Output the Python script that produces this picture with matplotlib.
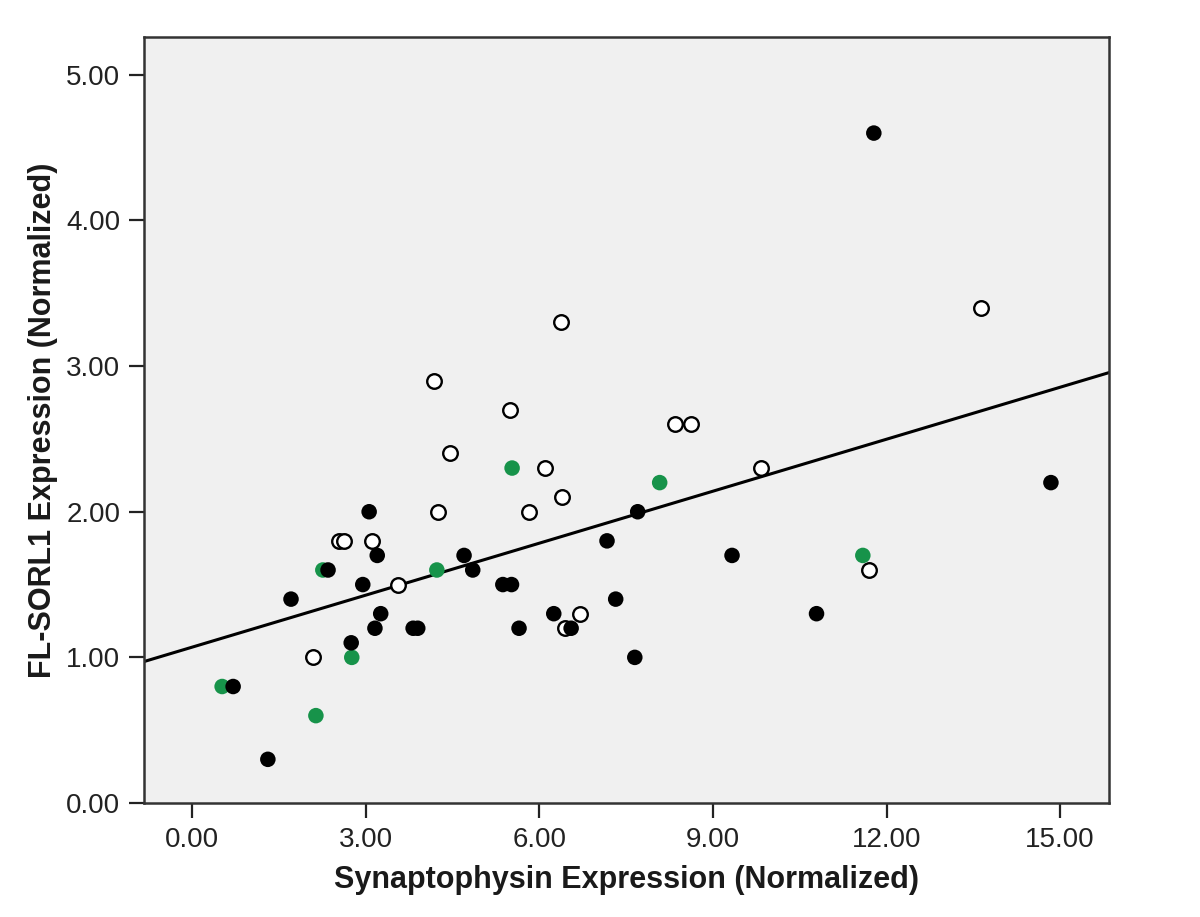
import numpy as np
import matplotlib
matplotlib.use("Agg")
import matplotlib.pyplot as plt

plt.rcParams["font.family"] = ["Liberation Sans", "DejaVu Sans"]

# filled black points (x, y)
filled_x = [0.71, 1.31, 1.71, 2.35, 2.75, 2.95, 3.06, 3.16, 3.20, 3.26, 3.82, 3.90,
            4.70, 4.85, 5.37, 5.52, 5.65, 6.25, 6.55, 7.17, 7.32, 7.65, 7.70, 9.33,
            10.79, 11.78, 14.84]
filled_y = [0.80, 0.30, 1.40, 1.60, 1.10, 1.50, 2.00, 1.20, 1.70, 1.30, 1.20, 1.20,
            1.70, 1.60, 1.50, 1.50, 1.20, 1.30, 1.20, 1.80, 1.40, 1.00, 2.00, 1.70,
            1.30, 4.60, 2.20]

# open circles
open_x = [2.09, 2.54, 2.63, 3.11, 3.56, 4.18, 4.25, 4.46, 5.49, 5.82, 6.10, 6.37,
          6.39, 6.44, 6.70, 8.34, 8.62, 9.83, 11.69, 13.64]
open_y = [1.00, 1.80, 1.80, 1.80, 1.50, 2.90, 2.00, 2.40, 2.70, 2.00, 2.30, 3.30,
          2.10, 1.20, 1.30, 2.60, 2.60, 2.30, 1.60, 3.40]

# green points
green_x = [0.52, 2.14, 2.26, 2.76, 4.23, 5.53, 8.08, 11.59]
green_y = [0.80, 0.60, 1.60, 1.00, 1.60, 2.30, 2.20, 1.70]

# fit line
intercept = 1.07
slope = 0.119

xmin, xmax = -0.83, 15.84
ymin, ymax = 0.0, 5.26

fig = plt.figure(figsize=(12, 9.17), dpi=100)
ax = fig.add_axes([0.12, 0.1243, 0.804, 0.8354])
ax.set_facecolor("#f0f0f0")

xl = np.array([xmin, xmax])
ax.plot(xl, intercept + slope * xl, color="black", lw=2.2, zorder=2)

ax.scatter(open_x, open_y, s=110, facecolor="white", edgecolor="black", linewidth=1.7, zorder=3)
ax.scatter(green_x, green_y, s=125, color="#17934a", edgecolor="none", zorder=4)
ax.scatter(filled_x, filled_y, s=125, color="black", edgecolor="none", zorder=5)

ax.set_xlim(xmin, xmax)
ax.set_ylim(ymin, ymax)
ax.set_xticks([0, 3, 6, 9, 12, 15])
ax.set_yticks([0, 1, 2, 3, 4, 5])
ax.xaxis.set_major_formatter(matplotlib.ticker.FormatStrFormatter("%.2f"))
ax.yaxis.set_major_formatter(matplotlib.ticker.FormatStrFormatter("%.2f"))
ax.tick_params(direction="out", length=11, width=1.6, labelsize=20, colors="#222222", pad=6)

for sp in ax.spines.values():
    sp.set_linewidth(1.8)
    sp.set_color("#333333")

ax.set_xlabel("Synaptophysin Expression (Normalized)", fontsize=22, fontweight="bold", labelpad=9, color="#1a1a1a")
ax.set_ylabel("FL-SORL1 Expression (Normalized)", fontsize=22, fontweight="bold", labelpad=6, color="#1a1a1a")

fig.savefig("out.png", dpi=100)
